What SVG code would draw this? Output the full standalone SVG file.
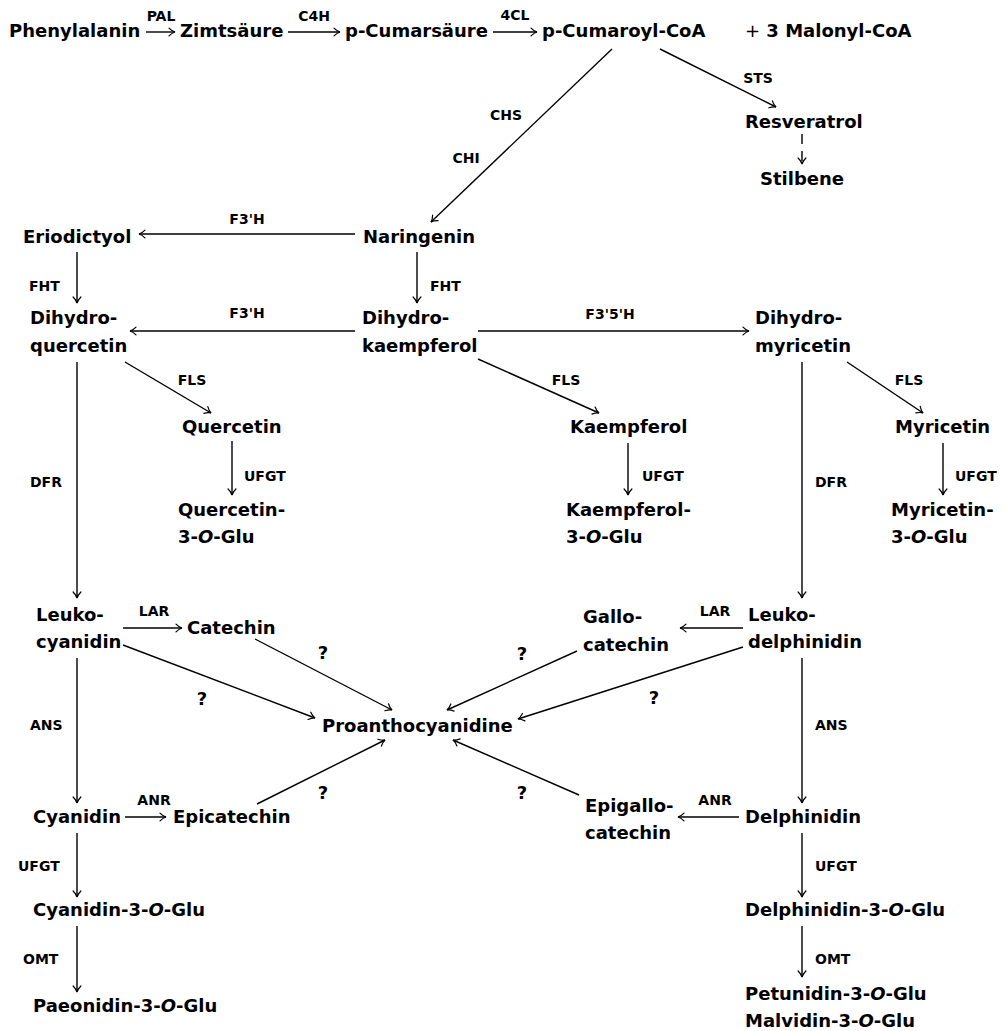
<svg xmlns="http://www.w3.org/2000/svg" width="1005" height="1031" viewBox="0 0 1005 1031">
<style>
.n{font-family:"DejaVu Sans","Liberation Sans",sans-serif;font-weight:bold;font-size:18px;fill:#000}
.l{font-family:"DejaVu Sans","Liberation Sans",sans-serif;font-weight:bold;font-size:14px;fill:#000}
.c line{stroke:#000;stroke-width:1.4;fill:none}
.i{font-style:italic}
</style>
<defs>
<marker id="a" markerUnits="userSpaceOnUse" viewBox="-7 -5 8 10" refX="0" refY="0" markerWidth="8" markerHeight="10" orient="auto">
<path d="M-6,-3.9 C-3.8,-1.7 -1.6,-0.4 0,0 C-1.6,0.4 -3.8,1.7 -6,3.9" stroke="#000" stroke-width="1.2" fill="none" stroke-linecap="round"/>
</marker>
</defs>
<rect width="1005" height="1031" fill="#fff"/>
<g id="connectors" class="c">
<line x1="146" y1="32" x2="175" y2="32" marker-end="url(#a)"/>
<line x1="288" y1="32" x2="340" y2="32" marker-end="url(#a)"/>
<line x1="493" y1="32" x2="537" y2="32" marker-end="url(#a)"/>
<line x1="612" y1="49" x2="431" y2="222" marker-end="url(#a)"/>
<line x1="660" y1="49" x2="776" y2="107" marker-end="url(#a)"/>
<line x1="802" y1="134" x2="802" y2="164" stroke-dasharray="10 7" marker-end="url(#a)"/>
<line x1="355" y1="234" x2="139" y2="234" marker-end="url(#a)"/>
<line x1="77" y1="252" x2="77" y2="303" marker-end="url(#a)"/>
<line x1="417" y1="252" x2="417" y2="303" marker-end="url(#a)"/>
<line x1="355" y1="331" x2="130" y2="331" marker-end="url(#a)"/>
<line x1="478" y1="331" x2="749" y2="331" marker-end="url(#a)"/>
<line x1="125" y1="362" x2="211" y2="413" marker-end="url(#a)"/>
<line x1="478" y1="359" x2="599" y2="413" marker-end="url(#a)"/>
<line x1="847" y1="362" x2="923" y2="413" marker-end="url(#a)"/>
<line x1="232" y1="441" x2="232" y2="495" marker-end="url(#a)"/>
<line x1="628" y1="443" x2="628" y2="495" marker-end="url(#a)"/>
<line x1="943" y1="443" x2="943" y2="495" marker-end="url(#a)"/>
<line x1="77" y1="362" x2="77" y2="598" marker-end="url(#a)"/>
<line x1="802" y1="362" x2="802" y2="598" marker-end="url(#a)"/>
<line x1="123" y1="628" x2="182" y2="628" marker-end="url(#a)"/>
<line x1="743" y1="628" x2="680" y2="628" marker-end="url(#a)"/>
<line x1="255" y1="639" x2="392" y2="710" marker-end="url(#a)"/>
<line x1="123" y1="645" x2="315" y2="718" marker-end="url(#a)"/>
<line x1="577" y1="651" x2="447" y2="710" marker-end="url(#a)"/>
<line x1="743" y1="647" x2="518" y2="719" marker-end="url(#a)"/>
<line x1="77" y1="658" x2="77" y2="803" marker-end="url(#a)"/>
<line x1="802" y1="658" x2="802" y2="803" marker-end="url(#a)"/>
<line x1="257" y1="804" x2="385" y2="740" marker-end="url(#a)"/>
<line x1="579" y1="795" x2="453" y2="740" marker-end="url(#a)"/>
<line x1="125" y1="817" x2="166" y2="817" marker-end="url(#a)"/>
<line x1="739" y1="817" x2="678" y2="817" marker-end="url(#a)"/>
<line x1="77" y1="833" x2="77" y2="897" marker-end="url(#a)"/>
<line x1="802" y1="833" x2="802" y2="897" marker-end="url(#a)"/>
<line x1="77" y1="926" x2="77" y2="992" marker-end="url(#a)"/>
<line x1="802" y1="926" x2="802" y2="977" marker-end="url(#a)"/>
</g>
<g id="edge-labels">
<text class="l" x="161" y="21" text-anchor="middle">PAL</text>
<text class="l" x="314" y="21" text-anchor="middle">C4H</text>
<text class="l" x="515" y="20" text-anchor="middle">4CL</text>
<text class="l" x="506" y="120" text-anchor="middle">CHS</text>
<text class="l" x="466" y="163" text-anchor="middle">CHI</text>
<text class="l" x="758" y="83" text-anchor="middle">STS</text>
<text class="l" x="247" y="224" text-anchor="middle">F3'H</text>
<text class="l" x="29" y="291">FHT</text>
<text class="l" x="430" y="291">FHT</text>
<text class="l" x="247" y="318" text-anchor="middle">F3'H</text>
<text class="l" x="610" y="319" text-anchor="middle">F3'5'H</text>
<text class="l" x="192" y="385" text-anchor="middle">FLS</text>
<text class="l" x="566" y="385" text-anchor="middle">FLS</text>
<text class="l" x="909" y="385" text-anchor="middle">FLS</text>
<text class="l" x="244" y="481">UFGT</text>
<text class="l" x="642" y="481">UFGT</text>
<text class="l" x="955" y="481">UFGT</text>
<text class="l" x="30" y="487">DFR</text>
<text class="l" x="815" y="487">DFR</text>
<text class="l" x="154" y="616" text-anchor="middle">LAR</text>
<text class="l" x="715" y="616" text-anchor="middle">LAR</text>
<text class="n" x="323" y="659" text-anchor="middle">?</text>
<text class="n" x="202" y="705" text-anchor="middle">?</text>
<text class="n" x="522" y="660" text-anchor="middle">?</text>
<text class="n" x="654" y="704" text-anchor="middle">?</text>
<text class="n" x="323" y="799" text-anchor="middle">?</text>
<text class="n" x="522" y="799" text-anchor="middle">?</text>
<text class="l" x="30" y="730">ANS</text>
<text class="l" x="815" y="730">ANS</text>
<text class="l" x="154" y="805" text-anchor="middle">ANR</text>
<text class="l" x="715" y="805" text-anchor="middle">ANR</text>
<text class="l" x="18" y="871">UFGT</text>
<text class="l" x="815" y="871">UFGT</text>
<text class="l" x="23" y="964">OMT</text>
<text class="l" x="815" y="964">OMT</text>
</g>
<g id="phenylalanin"><text class="n" x="9" y="37">Phenylalanin</text></g>
<g id="zimtsaeure"><text class="n" x="180" y="37">Zimtsäure</text></g>
<g id="p-cumarsaeure"><text class="n" x="345" y="37">p-Cumarsäure</text></g>
<g id="p-cumaroyl-coa"><text class="n" x="542" y="37">p-Cumaroyl-CoA</text></g>
<g id="malonyl-coa"><text class="n" x="745" y="37"><tspan font-weight="normal">+</tspan> 3 Malonyl-CoA</text></g>
<g id="resveratrol"><text class="n" x="745" y="128">Resveratrol</text></g>
<g id="stilbene"><text class="n" x="760" y="185">Stilbene</text></g>
<g id="eriodictyol"><text class="n" x="23" y="243">Eriodictyol</text></g>
<g id="naringenin"><text class="n" x="363" y="243">Naringenin</text></g>
<g id="dihydroquercetin"><text class="n" x="30" y="324">Dihydro-</text><text class="n" x="30" y="352">quercetin</text></g>
<g id="dihydrokaempferol"><text class="n" x="362" y="324">Dihydro-</text><text class="n" x="362" y="352">kaempferol</text></g>
<g id="dihydromyricetin"><text class="n" x="755" y="324">Dihydro-</text><text class="n" x="755" y="352">myricetin</text></g>
<g id="quercetin"><text class="n" x="182" y="433">Quercetin</text></g>
<g id="quercetin-glu"><text class="n" x="178" y="516">Quercetin-</text><text class="n" x="178" y="543">3-<tspan class="i">O</tspan>-Glu</text></g>
<g id="kaempferol"><text class="n" x="570" y="433">Kaempferol</text></g>
<g id="kaempferol-glu"><text class="n" x="566" y="516">Kaempferol-</text><text class="n" x="566" y="543">3-<tspan class="i">O</tspan>-Glu</text></g>
<g id="myricetin"><text class="n" x="895" y="433">Myricetin</text></g>
<g id="myricetin-glu"><text class="n" x="891" y="516">Myricetin-</text><text class="n" x="891" y="543">3-<tspan class="i">O</tspan>-Glu</text></g>
<g id="leukocyanidin"><text class="n" x="36" y="621">Leuko-</text><text class="n" x="36" y="648">cyanidin</text></g>
<g id="catechin"><text class="n" x="187" y="634">Catechin</text></g>
<g id="proanthocyanidine"><text class="n" x="322" y="732">Proanthocyanidine</text></g>
<g id="gallocatechin"><text class="n" x="583" y="623">Gallo-</text><text class="n" x="583" y="651">catechin</text></g>
<g id="leukodelphinidin"><text class="n" x="748" y="621">Leuko-</text><text class="n" x="748" y="648">delphinidin</text></g>
<g id="cyanidin"><text class="n" x="33" y="823">Cyanidin</text></g>
<g id="epicatechin"><text class="n" x="173" y="823">Epicatechin</text></g>
<g id="epigallocatechin"><text class="n" x="585" y="812">Epigallo-</text><text class="n" x="585" y="839">catechin</text></g>
<g id="delphinidin"><text class="n" x="745" y="823">Delphinidin</text></g>
<g id="cyanidin-glu"><text class="n" x="33" y="916">Cyanidin-3-<tspan class="i">O</tspan>-Glu</text></g>
<g id="paeonidin-glu"><text class="n" x="33" y="1012">Paeonidin-3-<tspan class="i">O</tspan>-Glu</text></g>
<g id="delphinidin-glu"><text class="n" x="745" y="916">Delphinidin-3-<tspan class="i">O</tspan>-Glu</text></g>
<g id="petunidin-malvidin-glu"><text class="n" x="745" y="1000">Petunidin-3-<tspan class="i">O</tspan>-Glu</text><text class="n" x="745" y="1027">Malvidin-3-<tspan class="i">O</tspan>-Glu</text></g>
</svg>
